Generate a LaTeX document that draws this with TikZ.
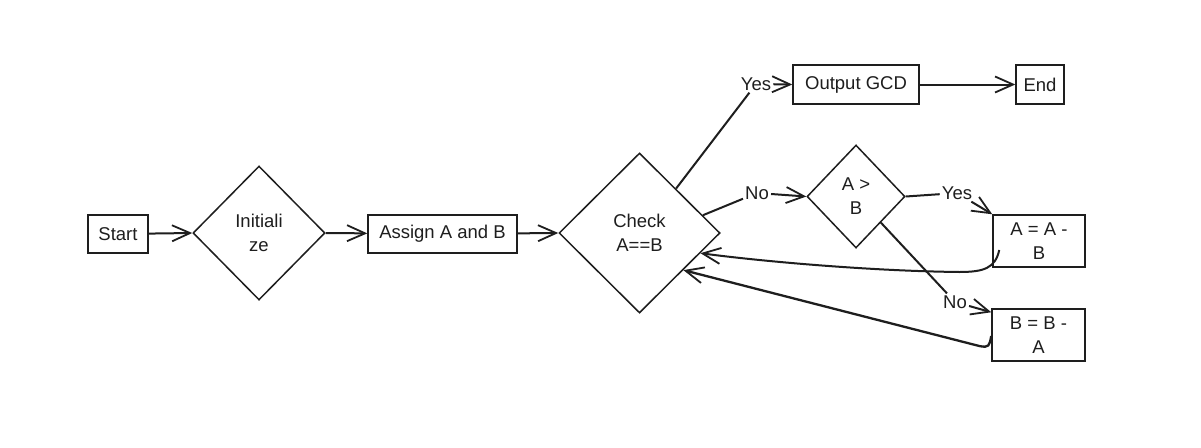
\documentclass[tikz,border=0pt]{standalone}
\usepackage{fontspec}
\setmainfont{Liberation Sans}
\usetikzlibrary{shapes.geometric,arrows.meta,calc}
\definecolor{ink}{HTML}{1E1E1E}
\newcommand\myfont{\fontsize{18.5}{24}\selectfont}
\begin{document}
\begin{tikzpicture}[x=1pt,y=-1pt,
  shp/.style={draw=ink, line width=1.5pt, inner sep=0pt, align=center, font=\myfont, text=ink},
  box/.style={shp, rectangle},
  dia/.style={shp, diamond},
  con/.style={draw=ink, line width=2pt},
  arr/.style={con, -{Straight Barb[length=18pt,width=16pt,line width=1.8pt]}},
  lbl/.style={inner sep=2pt, font=\myfont, text=ink}
]
\useasboundingbox[fill=white] (0,0) rectangle (1201,447);

% nodes
\node[box, minimum width=60, minimum height=38] (start) at (118,234) {Start};
\node[dia, minimum width=132, minimum height=134] (init) at (259,233) {Initiali\\ze};
\node[box, minimum width=149, minimum height=38] (assign) at (442.5,234) {Assign A and B};
\node[dia, minimum width=161, minimum height=160] (check) at (639.5,233) {Check\\A==B};
\node[box, minimum width=126, minimum height=39] (out) at (856,84.5) {Output GCD};
\node[box, minimum width=48, minimum height=39] (end) at (1040,84.5) {End};
\node[dia, minimum width=98, minimum height=103] (agb) at (856,196.5) {A >\\B};
\node[box, minimum width=92, minimum height=52] (aab) at (1039,241) {A = A -\\B};
\node[box, minimum width=93, minimum height=52] (bba) at (1038.5,335) {B = B -\\A};

% labels
\node[lbl] (yes1) at (756,84) {Yes};
\node[lbl] (no1) at (757,193) {No};
\node[lbl] (yes2) at (957,193) {Yes};
\node[lbl] (no2) at (955,302) {No};

% points on borders
\coordinate (cy) at ($(check.north)!0.45!(check.east)$);
\coordinate (cn) at ($(check.north)!0.78!(check.east)$);
\coordinate (cr1) at ($(check.east)!0.25!(check.south)$);
\coordinate (cr2) at ($(check.east)!0.46!(check.south)$);
\coordinate (an) at ($(agb.east)!0.5!(agb.south)$);
\coordinate (r1a) at ($(aab.west)+(7,9)$);
\coordinate (r1b) at ($(aab.west)+(-33,31)$);
\coordinate (r2a) at ($(bba.west)+(0,1)$);
\coordinate (r2b) at ($(bba.west)+(-12,11)$);

% connectors
\draw[arr] (start) -- (init.west);
\draw[arr] (init.east) -- (assign);
\draw[arr] (assign) -- (check.west);

\draw[con] (cy) -- (yes1);
\draw[arr] (yes1) -- (out.west);
\draw[arr] (out) -- (end);

\draw[con] (cn) -- (no1);
\draw[arr] (no1) -- (agb.west);

\draw[con] (agb.east) -- (yes2);
\draw[arr] (yes2) -- (aab.north west);

\draw[con] (an) -- (no2);
\draw[arr] (no2) -- ($(bba.north west)+(0,4)$);

\draw[arr] (r1a) .. controls ++(-4,18) and ++(25,0) .. (r1b)
  .. controls ++(-90,-1) and ++(60,8) .. (cr1);
\draw[arr, line width=2.3pt] (r2a) .. controls ++(-2,10) and ++(10,2) .. (r2b) -- (cr2);
\end{tikzpicture}
\end{document}
